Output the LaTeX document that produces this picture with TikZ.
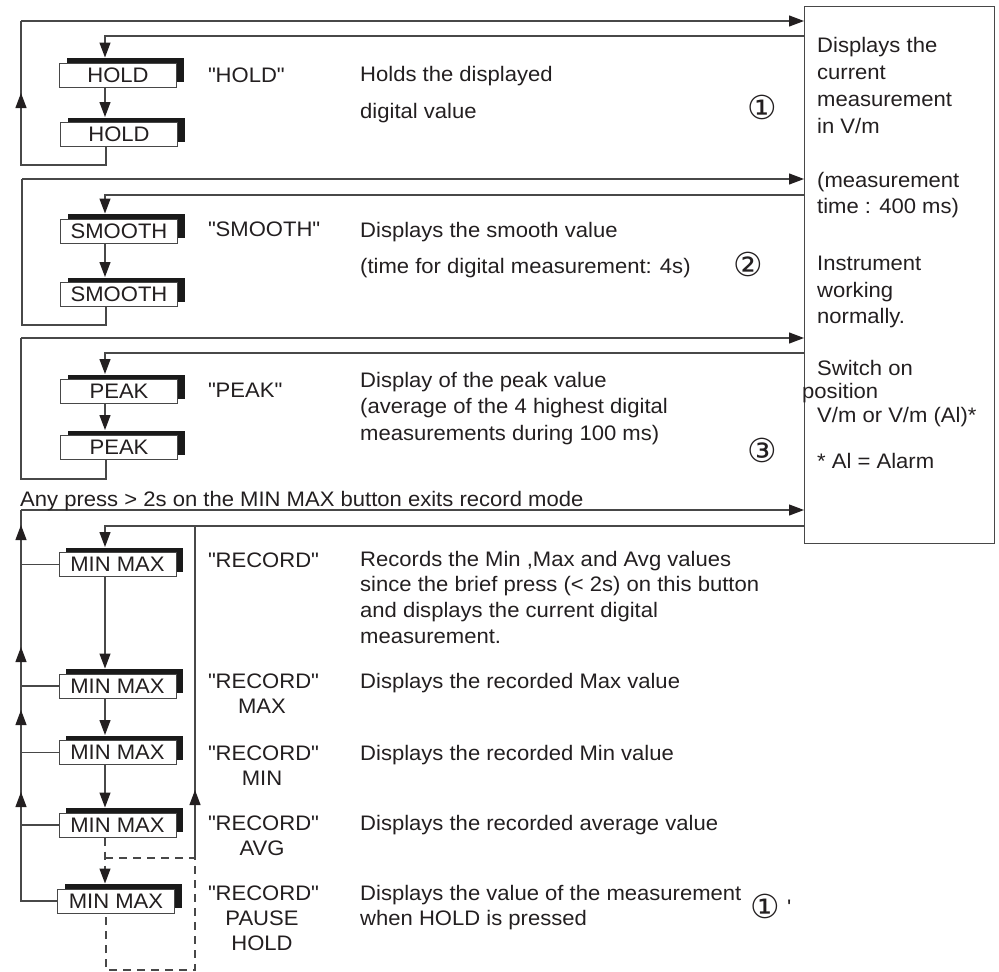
\documentclass[tikz,border=0pt]{standalone}
\usepackage{fontspec}
\setmainfont{Liberation Sans}[FakeStretch=1.05]
\newfontfamily\circfont{DejaVu Sans}
\usetikzlibrary{arrows.meta,shadows,calc}
\definecolor{linec}{HTML}{484848}
\definecolor{txtc}{HTML}{231F20}
\definecolor{tipc}{HTML}{231F20}
\definecolor{shadc}{HTML}{1A1A1A}
\newcommand\myfs{\fontsize{21pt}{25pt}\selectfont}
\newcommand\mycirc{\circfont\fontsize{33pt}{33pt}\selectfont}
\newcommand\qq{\textquotedbl}
\begin{document}
\begin{tikzpicture}[x=1pt,y=-1pt]
\tikzset{
  ln/.style={draw=linec, line width=1.2pt},
  arr/.style={ln, -{Triangle[length=15pt,width=11pt,color=tipc]}},
  dsh/.style={ln, dash pattern=on 8pt off 6pt},
  btn/.style={draw=linec, fill=white, line width=1pt, minimum width=117pt,
    minimum height=24pt, inner sep=0pt, font=\myfs, text=txtc,
    general shadow={fill=shadc, shadow xshift=7pt, shadow yshift=5pt}},
  txt/.style={anchor=base west, inner sep=0pt, font=\myfs, text=txtc},
  ctxt/.style={anchor=base, inner sep=0pt, font=\myfs, text=txtc},
  circ/.style={inner sep=0pt, font=\mycirc, text=txtc}
}
\useasboundingbox (0,0) rectangle (999,972);

% right display box
\node[draw=linec, line width=1.2pt, minimum width=190pt, minimum height=537pt,
  inner sep=0pt, anchor=north west] (disp) at (804,6) {};

% buttons
\node[btn] (h1) at (118,75) {HOLD};
\node[btn] (h2) at (119,134.5) {HOLD};
\node[btn] (s1) at (119,231) {SMOOTH};
\node[btn] (s2) at (119,294.5) {SMOOTH};
\node[btn] (p1) at (119,391.5) {PEAK};
\node[btn] (p2) at (119,447.5) {PEAK};
\node[btn] (m1) at (117.5,564.5) {MIN MAX};
\node[btn] (m2) at (117.5,686) {MIN MAX};
\node[btn] (m3) at (117.5,752.5) {MIN MAX};
\node[btn] (m4) at (117.5,825) {MIN MAX};
\node[btn] (m5) at (116,901) {MIN MAX};

% HOLD loop
\coordinate (hA) at (21,21);
\coordinate (hB) at (21,165);
\coordinate (hC) at (106,165);
\coordinate (hU) at (21,93);
\coordinate (hI) at (105,36);
\draw[ln] (h2.south -| hC) -- (hC) -- (hB) -- (hA);
\draw[arr] (hA) -- (hA -| disp.west);
\draw[arr] (hB) -- (hU);
\draw[arr] (hI -| disp.west) -- (hI) -- ($(h1.north -| hI)+(0,-5)$);
\draw[arr] (h1.south -| hI) -- ($(h2.north -| hI)+(0,-5)$);

% SMOOTH loop
\coordinate (sA) at (22,179);
\coordinate (sB) at (22,325);
\coordinate (sC) at (106,325);
\coordinate (sI) at (105,195);
\draw[ln] (s2.south -| sC) -- (sC) -- (sB) -- (sA);
\draw[arr] (sA) -- (sA -| disp.west);
\draw[arr] (sI -| disp.west) -- (sI) -- ($(s1.north -| sI)+(0,-5)$);
\draw[arr] (s1.south -| sI) -- ($(s2.north -| sI)+(0,-5)$);

% PEAK loop
\coordinate (pA) at (21,338);
\coordinate (pB) at (21,479);
\coordinate (pC) at (106,479);
\coordinate (pI) at (105,353);
\draw[ln] (p2.south -| pC) -- (pC) -- (pB) -- (pA);
\draw[arr] (pA) -- (pA -| disp.west);
\draw[arr] (pI -| disp.west) -- (pI) -- ($(p1.north -| pI)+(0,-5)$);
\draw[arr] (p1.south -| pI) -- ($(p2.north -| pI)+(0,-5)$);

% MIN MAX loop
\coordinate (mA) at (21,510);
\coordinate (mI) at (105,526);
\coordinate (mR) at (195,526);
\coordinate (mRb) at (195,858);
\coordinate (mD) at (195,970);
\coordinate (mE) at (106,970);
\coordinate (mU1) at (21,525);
\coordinate (mU2) at (21,647);
\coordinate (mU3) at (21,710);
\coordinate (mU4) at (21,792);
\coordinate (mU5) at (195,790);
\draw[ln] (mA) -- (m5.west -| mA) -- (m5.west);
\draw[arr] (mA) -- (mA -| disp.west);
\foreach \b in {m1,m2,m3,m4} {\draw[ln] (\b.west -| mA) -- (\b.west);}
\draw[arr] (m1.west -| mA) -- (mU1);
\draw[arr] (m2.west -| mA) -- (mU2);
\draw[arr] (m3.west -| mA) -- (mU3);
\draw[arr] (m4.west -| mA) -- (mU4);
\draw[arr] (mI -| disp.west) -- (mI) -- ($(m1.north -| mI)+(0,-5)$);
\draw[arr] (m1.south -| mI) -- ($(m2.north -| mI)+(0,-5)$);
\draw[arr] (m2.south -| mI) -- ($(m3.north -| mI)+(0,-5)$);
\draw[arr] (m3.south -| mI) -- ($(m4.north -| mI)+(0,-5)$);
\draw[arr, dash pattern=on 8pt off 6pt] (m4.south -| mI) -- ($(m5.north -| mI)+(0,-5)$);
\draw[ln] (mRb) -- (mR);
\draw[arr] (mRb) -- (mU5);
\draw[dsh] (mI |- mRb) -- (mRb) -- (mD) -- (mE) -- (m5.south -| mE);

% quoted labels
\node[txt] (lh) at (208,82) {\qq HOLD\qq};
\node[txt] (ls) at (208,236) {\qq SMOOTH\qq};
\node[txt] (lp) at (208,397) {\qq PEAK\qq};
\node[txt] (lr1) at (208,567) {\qq RECORD\qq};
\node[txt] (lr2) at (208,688) {\qq RECORD\qq};
\node[ctxt] (lr2b) at (262,713) {MAX};
\node[txt] (lr3) at (208,760) {\qq RECORD\qq};
\node[ctxt] (lr3b) at (262,785) {MIN};
\node[txt] (lr4) at (208,830) {\qq RECORD\qq};
\node[ctxt] (lr4b) at (262,855) {AVG};
\node[txt] (lr5) at (208,900) {\qq RECORD\qq};
\node[ctxt] (lr5b) at (262,925) {PAUSE};
\node[ctxt] (lr5c) at (262,950) {HOLD};

% descriptions
\node[txt] (dh1) at (360,81) {Holds the displayed};
\node[txt] (dh2) at (360,118) {digital value};
\node[txt] (ds1) at (360,237) {Displays the smooth value};
\node[txt] (ds2) at (360,273) {(time for digital measurement: 4s)};
\node[txt] (dp1) at (360,387) {Display of the peak value};
\node[txt] (dp2) at (360,413) {(average of the 4 highest digital};
\node[txt] (dp3) at (360,440) {measurements during 100 ms)};
\node[txt] (anyp) at (20,506) {Any press > 2s on the MIN MAX button exits record mode};
\node[txt] (dr1) at (360,566) {Records the Min ,Max and Avg values};
\node[txt] (dr2) at (360,591) {since the brief press (< 2s) on this button};
\node[txt] (dr3) at (360,617) {and displays the current digital};
\node[txt] (dr4) at (360,643) {measurement.};
\node[txt] (dmx) at (360,688) {Displays the recorded Max value};
\node[txt] (dmn) at (360,760) {Displays the recorded Min value};
\node[txt] (dav) at (360,830) {Displays the recorded average value};
\node[txt] (dv1) at (360,900) {Displays the value of the measurement};
\node[txt] (dv2) at (360,925) {when HOLD is pressed};

% circled numbers
\node[circ] (c1) at (762,107) {①};
\node[circ] (c2) at (748,264) {②};
\node[circ] (c3) at (762,450) {③};
\node[circ] (c4) at (765,906) {①};
\node[txt] (c4p) at (787,914) {\textquotesingle};

% display box text
\node[txt] (b1) at (817,52) {Displays the};
\node[txt] (b2) at (817,79) {current};
\node[txt] (b3) at (817,106) {measurement};
\node[txt] (b4) at (817,133) {in V/m};
\node[txt] (b5) at (817,187) {(measurement};
\node[txt] (b6) at (817,213) {time : 400 ms)};
\node[txt] (b7) at (817,270) {Instrument};
\node[txt] (b8) at (817,297) {working};
\node[txt] (b9) at (817,323) {normally.};
\node[txt] (b10) at (817,375) {Switch on};
\node[txt] (b11) at (802,398) {position};
\node[txt] (b12) at (817,422) {V/m or V/m (Al)*};
\node[txt] (b13) at (817,468) {* Al = Alarm};
\end{tikzpicture}
\end{document}
